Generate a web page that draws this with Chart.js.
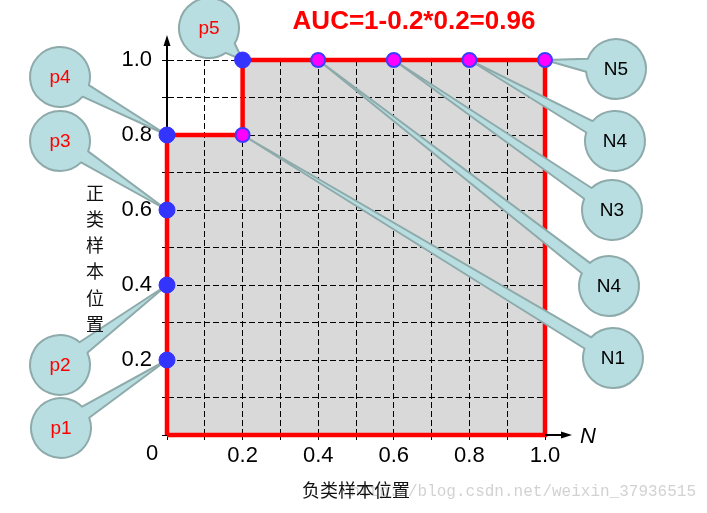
<!DOCTYPE html>
<html>
<head>
<meta charset="utf-8">
<script src="https://cdn.jsdelivr.net/npm/chart.js@4"></script>
<style>
  html, body { margin: 0; padding: 0; background: #fff; }
  canvas { display: block; }
</style>
</head>
<body>
<canvas id="roc" width="707" height="513"></canvas>
<script>
// ROC step curve, closed back to the origin
const rocX = [0, 0, 0.2, 0.2, 1.0, 1.0, 0];
const rocY = [0, 0.8, 0.8, 1.0, 1.0, 0, 0];

// positive samples (blue)
const posNames = ['p1', 'p2', 'p3', 'p4', 'p5'];
const posX = [0, 0, 0, 0, 0.2];
const posY = [0.2, 0.4, 0.6, 0.8, 1.0];

// negative samples (magenta)
const negNames = ['N1', 'N4', 'N3', 'N4', 'N5'];
const negX = [0.2, 0.4, 0.6, 0.8, 1.0];
const negY = [0.8, 1.0, 1.0, 1.0, 1.0];

const tickValues = [0.2, 0.4, 0.6, 0.8, 1.0];
const titleText = 'AUC=1-0.2*0.2=0.96';
const yTitle = '正类样本位置';
const xTitle = '负类样本位置';
const watermark = 'http://blog.csdn.net/weixin_37936515';

// bubble centres in pixels (layout only)
const posBubbles = [[61, 428], [60, 365], [60, 141], [60, 77], [209, 28]];
const negBubbles = [[613, 358], [609, 286], [612, 210], [615, 141], [616, 69]];

const FONT = '"Liberation Sans", Arial, sans-serif';

function tickLabel(v) {
  return tickValues.some(t => Math.abs(t - v) < 1e-6) ? v.toFixed(1) : '';
}

function bubble(ctx, cx, cy, tx, ty, label, color) {
  const r = 30, w = 0.22;
  const a = Math.atan2(ty - cy, tx - cx);
  ctx.save();
  ctx.beginPath();
  ctx.moveTo(tx, ty);
  ctx.lineTo(cx + r * Math.cos(a + w), cy + r * Math.sin(a + w));
  ctx.arc(cx, cy, r, a + w, a - w + 2 * Math.PI);
  ctx.closePath();
  ctx.fillStyle = '#b8dee1';
  ctx.fill();
  ctx.lineJoin = 'round';
  ctx.lineWidth = 2;
  ctx.strokeStyle = '#8eaaaa';
  ctx.stroke();
  ctx.fillStyle = color;
  ctx.font = '19px ' + FONT;
  ctx.textAlign = 'center';
  ctx.textBaseline = 'middle';
  ctx.fillText(label, cx, cy + 1);
  ctx.restore();
}

const decorations = {
  id: 'decorations',
  beforeDraw(chart) {
    const ctx = chart.ctx;
    ctx.save();
    ctx.fillStyle = '#d2d2d2';
    ctx.font = '16px "Liberation Mono", monospace';
    ctx.textAlign = 'right';
    ctx.textBaseline = 'middle';
    ctx.fillText(watermark, 696, 492);
    ctx.restore();
  },
  afterDatasetDraw(chart, args) {
    if (args.index !== 0) return;
    const ctx = chart.ctx, x = chart.scales.x, y = chart.scales.y;
    negX.forEach((v, i) => {
      bubble(ctx, negBubbles[i][0], negBubbles[i][1], x.getPixelForValue(v), y.getPixelForValue(negY[i]), negNames[i], '#000');
    });
    posX.forEach((v, i) => {
      bubble(ctx, posBubbles[i][0], posBubbles[i][1], x.getPixelForValue(v), y.getPixelForValue(posY[i]), posNames[i], '#ff0000');
    });
  },
  afterDraw(chart) {
    const ctx = chart.ctx, x = chart.scales.x, y = chart.scales.y;
    const x0 = x.getPixelForValue(0), y0 = y.getPixelForValue(0);
    const xEnd = x.getPixelForValue(1), yEnd = y.getPixelForValue(1);
    ctx.save();
    // axis arrows
    ctx.strokeStyle = '#000';
    ctx.fillStyle = '#000';
    ctx.lineWidth = 2;
    ctx.beginPath();
    ctx.moveTo(x0, yEnd); ctx.lineTo(x0, yEnd - 16);
    ctx.moveTo(xEnd, y0); ctx.lineTo(xEnd + 18, y0);
    ctx.stroke();
    ctx.beginPath();
    ctx.moveTo(x0, yEnd - 25); ctx.lineTo(x0 - 3.5, yEnd - 14); ctx.lineTo(x0 + 3.5, yEnd - 14);
    ctx.closePath(); ctx.fill();
    ctx.beginPath();
    ctx.moveTo(xEnd + 27, y0); ctx.lineTo(xEnd + 16, y0 - 3.5); ctx.lineTo(xEnd + 16, y0 + 3.5);
    ctx.closePath(); ctx.fill();

    ctx.textAlign = 'center';
    ctx.textBaseline = 'middle';
    ctx.font = 'italic 22px ' + FONT;
    ctx.fillText('N', xEnd + 43, y0 + 2);
    ctx.font = '22px ' + FONT;
    ctx.fillText('0', x0 - 15, y0 + 19);

    // vertical y title
    ctx.font = '18px "Noto Sans CJK SC", sans-serif';
    ctx.fillStyle = '#111';
    [...yTitle].forEach((ch, i) => ctx.fillText(ch, 95, 193 + i * 26.2));

    // headline
    ctx.font = 'bold 26px ' + FONT;
    ctx.fillStyle = '#ff0000';
    ctx.fillText(titleText, 414, 22);
    ctx.restore();
  }
};

const gridOpts = { color: '#000', lineWidth: 1, tickLength: 5 };
const borderOpts = { display: true, color: '#000', width: 2, dash: [6, 3] };
const tickFont = { family: FONT, size: 22 };
const rocPoints = rocX.map((v, i) => ({ x: v, y: rocY[i] }));

new Chart(document.getElementById('roc'), {
  type: 'line',
  data: {
    datasets: [
      {
        // red outline (closed)
        data: rocPoints,
        tension: 0,
        borderColor: '#ff0000',
        borderWidth: 4.5,
        fill: false,
        pointRadius: 0,
        clip: false,
        order: 3
      },
      {
        // grey area under the curve (open path, filled to y = 0)
        data: rocPoints.slice(0, -1),
        tension: 0,
        borderWidth: 0,
        borderColor: 'rgba(0,0,0,0)',
        backgroundColor: 'rgba(0,0,0,0.15)',
        fill: 'origin',
        pointRadius: 0,
        order: 4
      },
      {
        type: 'scatter',
        data: negX.map((v, i) => ({ x: v, y: negY[i] })),
        pointRadius: 7,
        pointBackgroundColor: '#ff00ff',
        pointBorderColor: '#3c3cff',
        pointBorderWidth: 2,
        clip: false,
        order: 2
      },
      {
        type: 'scatter',
        data: posX.map((v, i) => ({ x: v, y: posY[i] })),
        pointRadius: 8,
        pointBackgroundColor: '#3434ff',
        pointBorderColor: '#3434ff',
        pointBorderWidth: 1,
        clip: false,
        order: 1
      }
    ]
  },
  options: {
    responsive: false,
    animation: false,
    layout: { padding: { left: 107, top: 60, right: 162, bottom: 0 } },
    plugins: { legend: { display: false }, tooltip: { enabled: false } },
    scales: {
      x: {
        type: 'linear', min: 0, max: 1,
        afterFit: s => { s.height = 78; },
        grid: gridOpts,
        border: borderOpts,
        ticks: { stepSize: 0.1, autoSkip: false, maxRotation: 0, callback: tickLabel, color: '#000', font: tickFont, padding: 3 },
        title: { display: true, text: xTitle, color: '#111', font: { family: '"Noto Sans CJK SC", sans-serif', size: 18 }, padding: { top: 0, bottom: 12 } }
      },
      y: {
        type: 'linear', min: 0, max: 1,
        afterFit: s => { s.width = 60; },
        grid: gridOpts,
        border: borderOpts,
        ticks: { stepSize: 0.1, autoSkip: false, callback: tickLabel, color: '#000', font: tickFont, padding: 10 }
      }
    }
  },
  plugins: [decorations]
});
</script>
</body>
</html>
